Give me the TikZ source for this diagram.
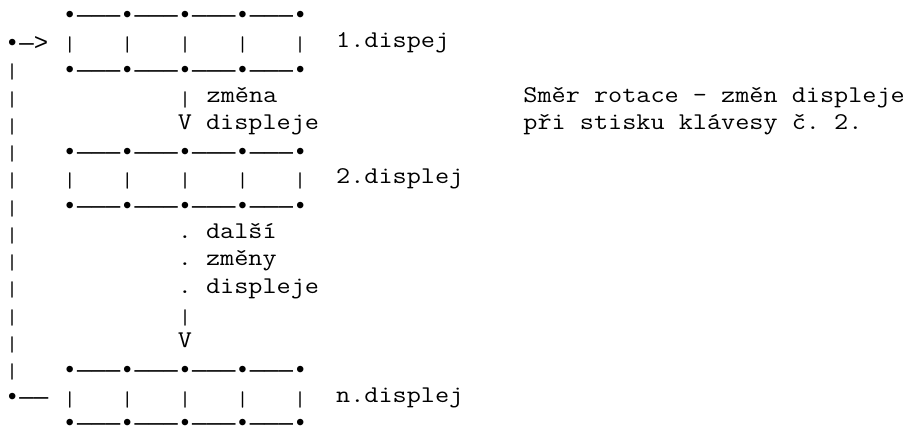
\documentclass[tikz,border=0pt]{standalone}
\usepackage{fontspec}
\newfontfamily\asciifont{Latin Modern Mono}
\newfontfamily\symfont{Liberation Mono}
\newcommand\T[1]{\scalebox{1.142857}[1]{\asciifont #1}}
\newcommand\B{\raisebox{-2pt}{•}}
\newcommand\D{\raisebox{-2pt}{—}}
\newcommand\G{\raisebox{-2pt}{>}}
\newcommand\I{\makebox[10.8pt]{\raisebox{-4.3pt}{\resizebox*{!}{12.45pt}{\asciifont\raisebox{\depth}{|}}}}}
\newcommand\boxrow{\B\D\D\D\B\D\D\D\B\D\D\D\B\D\D\D\B}
\begin{document}
\begin{tikzpicture}[x=0.75pt,y=-0.75pt,
  txt/.style={anchor=base west, inner sep=0pt, outer sep=0pt,
    font=\symfont\fontsize{18pt}{20pt}\selectfont\frenchspacing}]
\useasboundingbox (0,0) rectangle (914,430);
\def\cl#1{{5+#1*14.4}}
\node[txt] (r1)  at (\cl{4}, 20.30) {\boxrow};
\node[txt] (r2)  at (\cl{0}, 47.57) {\B\D\G~\I~~~\I~~~\I~~~\I~~~\I~~\T{1.dispej}};
\node[txt] (r3)  at (\cl{0}, 74.84) {\I~~~\boxrow};
\node[txt] (r4)  at (\cl{0},102.11) {\I~~~~~~~~~~~\I~\T{změna}};
\node[txt] (n1)  at (\cl{36},102.11) {\T{Směr rotace - změn displeje}};
\node[txt] (r5)  at (\cl{0},129.38) {\I~~~~~~~~~~~\T{V displeje}};
\node[txt] (n2)  at (\cl{36},129.38) {\T{při stisku klávesy č. 2.}};
\node[txt] (r6)  at (\cl{0},156.65) {\I~~~\boxrow};
\node[txt] (r7)  at (\cl{0},183.92) {\I~~~\I~~~\I~~~\I~~~\I~~~\I~~\T{2.displej}};
\node[txt] (r8)  at (\cl{0},211.19) {\I~~~\boxrow};
\node[txt] (r9)  at (\cl{0},238.46) {\I~~~~~~~~~~~\T{. další}};
\node[txt] (r10) at (\cl{0},265.73) {\I~~~~~~~~~~~\T{. změny}};
\node[txt] (r11) at (\cl{0},293.00) {\I~~~~~~~~~~~\T{. displeje}};
\node[txt] (r12) at (\cl{0},320.27) {\I~~~~~~~~~~~\I};
\node[txt] (r13) at (\cl{0},347.54) {\I~~~~~~~~~~~\T{V}};
\node[txt] (r14) at (\cl{0},374.81) {\I~~~\boxrow};
\node[txt] (r15) at (\cl{0},402.08) {\B\D\D~\I~~~\I~~~\I~~~\I~~~\I~~\T{n.displej}};
\node[txt] (r16) at (\cl{4},428.30) {\boxrow};
\end{tikzpicture}
\end{document}
